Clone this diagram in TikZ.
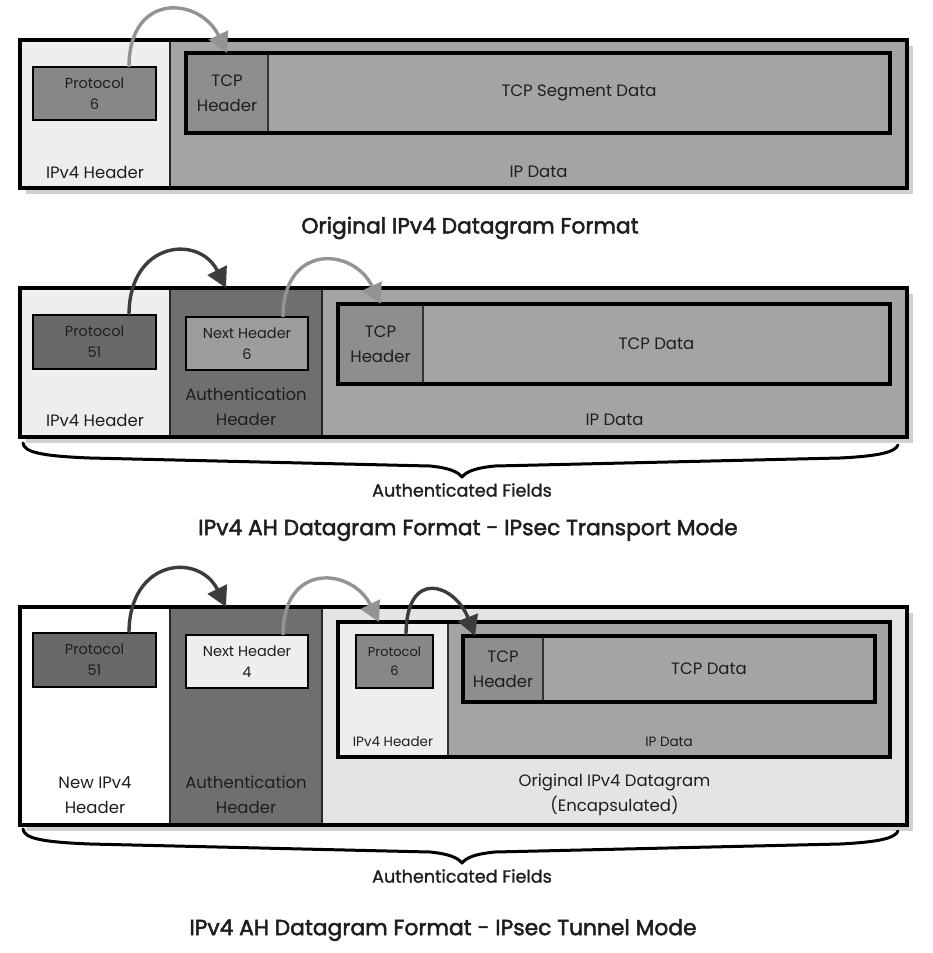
\documentclass[tikz,border=0pt]{standalone}
\usepackage{fontspec}
\setmainfont{Poppins}
\newfontfamily\headfont{Poppins}[FakeBold=2.2]
\newfontfamily\capfont{Poppins}[FakeBold=1.2]
\usetikzlibrary{arrows.meta,calc}
\definecolor{ink}{HTML}{1E1E1E}
\definecolor{pale}{HTML}{EEEEEE}
\definecolor{paletwo}{HTML}{E4E4E4}
\definecolor{mid}{HTML}{A4A4A4}
\definecolor{tcph}{HTML}{8E8E8E}
\definecolor{protA}{HTML}{878787}
\definecolor{protB}{HTML}{696969}
\definecolor{ahfill}{HTML}{6F6F6F}
\definecolor{nhfill}{HTML}{9D9D9D}
\definecolor{shadowc}{HTML}{D0D0D0}
\definecolor{darkarrow}{HTML}{3C3C3C}
\definecolor{lightarrow}{HTML}{939393}
\begin{document}
\begin{tikzpicture}[x=1pt,y=-1pt,
  sect/.style={inner sep=0pt, outer sep=0pt, anchor=north west},
  field/.style={sect, draw=black, line width=2.6pt, align=center, text=ink,
    font=\fontsize{14.5}{21}\selectfont},
  smallfield/.style={field, font=\fontsize{13}{19}\selectfont},
  hdrcell/.style={sect, align=center, text=ink, font=\fontsize{16.5}{25}\selectfont},
  frameline/.style={line width=4pt, draw=black},
  divider/.style={line width=1.6pt, draw=black!85},
  thindiv/.style={line width=1.2pt, draw=black!80},
  lab/.style={inner sep=0pt, align=center, text=ink, font=\fontsize{16.5}{25}\selectfont},
  smalllab/.style={inner sep=0pt, align=center, text=ink, font=\fontsize{13.5}{18}\selectfont},
  ttl/.style={inner sep=0pt, text=ink, font=\headfont\fontsize{21.8}{26}\selectfont},
  bracecap/.style={inner sep=0pt, text=ink, font=\capfont\fontsize{17.6}{20}\selectfont},
  link/.style={line width=3.4pt, -{Triangle[length=20pt,width=21pt]}},
  darklink/.style={link, draw=darkarrow},
  lightlink/.style={link, draw=lightarrow},
  bracel/.style={line width=3pt, draw=black, line cap=round, line join=round}
]
\useasboundingbox (0,0) rectangle (932,953);

% ================= Original IPv4 datagram =================
\fill[shadowc] (26,46) rectangle (913,194);
\node[sect, fill=pale, minimum width=150, minimum height=148] (h1) at (20,40) {};
\node[sect, fill=mid, minimum width=737, minimum height=148] (d1) at (170,40) {};
\draw[divider] (h1.north east) -- (h1.south east);
\draw[frameline] (h1.north west) rectangle (d1.south east);
\node[field, fill=protA, minimum width=123, minimum height=53] (p1) at (33,67) {Protocol\\6};
\node[sect, fill=mid, minimum width=704, minimum height=80] (t1) at (186,53) {};
\node[hdrcell, fill=tcph, minimum width=82, minimum height=80] (th1) at (186,53) {TCP\\Header};
\draw[thindiv] (th1.north east) -- (th1.south east);
\draw[frameline] (t1.north west) rectangle (t1.south east);
\node[lab] (l1a) at ($(h1.south)+(0,-16)$) {IPv4 Header};
\node[lab] (l1b) at ($(d1.south)+(0,-16)$) {IP Data};
\node[lab] (l1c) at ($(th1.east)!0.5!(t1.east)$) {TCP Segment Data};
\node[ttl] (ti1) at (470,228) {Original IPv4 Datagram Format};
\draw[lightlink] ($(p1.north)+(34.5,0)$) .. controls +(0,-76) and +(-27,-56) .. (th1.north);

% ================= AH, transport mode =================
\fill[shadowc] (26,294) rectangle (913,443);
\node[sect, fill=pale, minimum width=150, minimum height=149] (h2) at (20,288) {};
\node[sect, fill=ahfill, minimum width=152, minimum height=149] (a2) at (170,288) {};
\node[sect, fill=mid, minimum width=585, minimum height=149] (d2) at (322,288) {};
\draw[divider] (h2.north east) -- (h2.south east);
\draw[divider] (a2.north east) -- (a2.south east);
\draw[frameline] (h2.north west) rectangle (d2.south east);
\node[field, fill=protB, minimum width=123, minimum height=54] (p2) at (33,315) {Protocol\\51};
\node[field, fill=nhfill, minimum width=122, minimum height=53] (n2) at (186,317) {Next Header\\6};
\node[sect, fill=mid, minimum width=552, minimum height=80] (t2) at (338,304) {};
\node[hdrcell, fill=tcph, minimum width=85, minimum height=80] (th2) at (338,304) {TCP\\Header};
\draw[thindiv] (th2.north east) -- (th2.south east);
\draw[frameline] (t2.north west) rectangle (t2.south east);
\node[lab] (l2a) at ($(h2.south)+(0,-17)$) {IPv4 Header};
\node[lab] (l2b) at ($(a2.south)+(0,-30)$) {Authentication\\Header};
\node[lab] (l2c) at ($(d2.south)+(0,-17)$) {IP Data};
\node[lab] (l2d) at ($(th2.east)!0.5!(t2.east)$) {TCP Data};
\draw[darklink] ($(p2.north)+(34.5,0)$) .. controls +(0,-74) and +(-27,-54) .. ($(a2.north)+(-20,0)$);
\draw[lightlink] ($(n2.north)+(36,0)$) .. controls +(0,-74) and +(-27,-57) .. (th2.north);
% brace over the authenticated span
\draw[bracel] (23,443) .. controls (24,452) and (40,456) .. (90,458)
  -- (430,466) .. controls (450,468) and (458,472) .. (462,477)
  .. controls (466,472) and (474,468) .. (495,466)
  -- (840,458) .. controls (880,456) and (895,452) .. (898,445);
\node[bracecap] (c2) at (462,490) {Authenticated Fields};
\node[ttl] (ti2) at (468,530) {IPv4 AH Datagram Format - IPsec Transport Mode};

% ================= AH, tunnel mode =================
\fill[shadowc] (26,613) rectangle (913,831);
\node[sect, fill=white, minimum width=150, minimum height=218] (h3) at (20,607) {};
\node[sect, fill=ahfill, minimum width=152, minimum height=218] (a3) at (170,607) {};
\node[sect, fill=paletwo, minimum width=585, minimum height=218] (o3) at (322,607) {};
\draw[divider] (h3.north east) -- (h3.south east);
\draw[divider] (a3.north east) -- (a3.south east);
\draw[frameline] (h3.north west) rectangle (o3.south east);
\node[field, fill=protB, minimum width=123, minimum height=54] (p3) at (33,633) {Protocol\\51};
\node[field, fill=pale, minimum width=122, minimum height=53] (n3) at (186,635) {Next Header\\4};
% encapsulated datagram
\node[sect, fill=mid, minimum width=552, minimum height=135] (e3) at (338,622) {};
\node[sect, fill=pale, minimum width=110, minimum height=135] (eh3) at (338,622) {};
\draw[thindiv] (eh3.north east) -- (eh3.south east);
\draw[frameline] (e3.north west) rectangle (e3.south east);
\node[smallfield, fill=protA, minimum width=77, minimum height=53] (ip3) at (356,635) {Protocol\\6};
\node[sect, fill=mid, minimum width=412, minimum height=66] (t3) at (463,636) {};
\node[hdrcell, fill=tcph, minimum width=80, minimum height=66] (th3) at (463,636) {TCP\\Header};
\draw[thindiv] (th3.north east) -- (th3.south east);
\draw[frameline] (t3.north west) rectangle (t3.south east);
\node[lab] (l3t) at ($(th3.east)!0.5!(t3.east)$) {TCP Data};
\node[smalllab] (l3s) at ($(eh3.south)+(0,-15)$) {IPv4 Header};
\node[smalllab] (l3d) at ($(eh3.south east)!0.5!(e3.south east)+(0,-15)$) {IP Data};
\node[lab] (l3a) at ($(h3.south)+(0,-30)$) {New IPv4\\Header};
\node[lab] (l3b) at ($(a3.south)+(0,-30)$) {Authentication\\Header};
\node[lab] (l3c) at ($(o3.south)+(0,-30)$) {Original IPv4 Datagram\\(Encapsulated)};
\draw[darklink] ($(p3.north)+(34.5,0)$) .. controls +(0,-74) and +(-27,-55) .. ($(a3.north)+(-20,0)$);
\draw[lightlink] ($(n3.north)+(36,0)$) .. controls +(0,-74) and +(-27,-54) .. ($(e3.north west)+(41,0)$);
\draw[darklink] ($(ip3.north)+(11.5,0)$) .. controls +(0,-68) and +(-20,-52) .. ($(th3.north west)+(12,0)$);
\begin{scope}[shift={(0,386)}]
\draw[bracel] (23,443) .. controls (24,452) and (40,456) .. (90,458)
  -- (430,466) .. controls (450,468) and (458,472) .. (462,477)
  .. controls (466,472) and (474,468) .. (495,466)
  -- (840,458) .. controls (880,456) and (895,452) .. (898,445);
\end{scope}
\node[bracecap] (c3) at (462,876) {Authenticated Fields};
\node[ttl] (ti3) at (443,930) {IPv4 AH Datagram Format - IPsec Tunnel Mode};
\end{tikzpicture}
\end{document}
